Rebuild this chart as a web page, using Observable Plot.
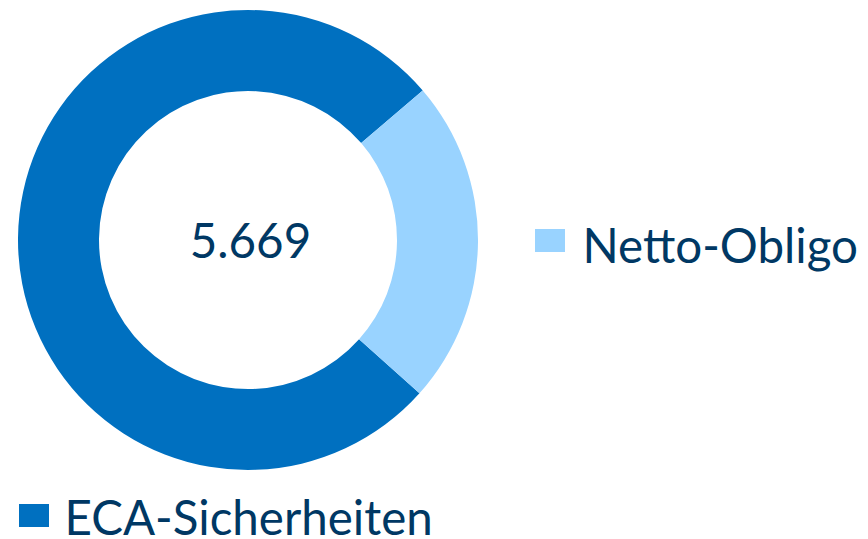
<!DOCTYPE html>
<html>
<head>
<meta charset="utf-8">
<script src="https://cdn.jsdelivr.net/npm/d3@7"></script>
<script src="https://cdn.jsdelivr.net/npm/@observablehq/plot@0.6"></script>
<style>
  html, body { margin: 0; padding: 0; background: #fff; }
  #chart { width: 868px; height: 539px; }
</style>
</head>
<body>
<div id="chart"></div>
<script>
// ---- data ----
const categories = ["ECA-Sicherheiten", "Netto-Obligo"];
const values = [4372, 1297];
const colors = ["#0070C0", "#99D3FF"];

const data = categories.map((c, i) => ({category: c, value: values[i]}));
const deFormat = d3.formatLocale({decimal: ",", thousands: ".", grouping: [3], currency: ["", " €"]}).format(",");
const totalLabel = deFormat(d3.sum(values));

const color = Plot.scale({color: {domain: categories, range: colors}});

const W = 868, H = 539;
const cx = 248, cy = 240, rOuter = 230, rInner = 149;
const startAngle = 131.8 * Math.PI / 180;
const textColor = "#003864";
const font = "Lato, sans-serif";
const fs = 47.5;

function donut(index, scales, vals, dims) {
  const g = d3.create("svg:g");
  const pie = d3.pie().sort(null).value(d => d.value)
    .startAngle(startAngle).endAngle(startAngle + 2 * Math.PI);
  const arc = d3.arc().innerRadius(rInner).outerRadius(rOuter);
  g.append("g").attr("transform", `translate(${cx},${cy})`)
    .selectAll("path").data(pie(data)).join("path")
    .attr("d", arc)
    .attr("fill", d => color.apply(d.data.category));
  return g.node();
}

function swatches() {
  const g = d3.create("svg:g");
  const pos = {"ECA-Sicherheiten": [19, 504], "Netto-Obligo": [535, 229]};
  g.selectAll("rect").data(categories).join("rect")
    .attr("x", d => pos[d][0]).attr("y", d => pos[d][1])
    .attr("width", 30).attr("height", 23)
    .attr("fill", d => color.apply(d));
  return g.node();
}

const chart = Plot.plot({
  width: W, height: H, margin: 0,
  style: {fontFamily: font, background: "#fff", overflow: "visible"},
  marks: [
    donut,
    swatches,
    Plot.text([totalLabel], {frameAnchor: "top-left", dx: cx + 2, dy: 257, text: d => d, textAnchor: "middle", lineAnchor: "bottom", fontSize: fs, fill: textColor}),
    Plot.text(["Netto-Obligo"], {frameAnchor: "top-left", dx: 582, dy: 262, text: d => d, textAnchor: "start", lineAnchor: "bottom", fontSize: fs, fill: textColor}),
    Plot.text(["ECA-Sicherheiten"], {frameAnchor: "top-left", dx: 64, dy: 534, text: d => d, textAnchor: "start", lineAnchor: "bottom", fontSize: fs, fill: textColor})
  ]
});
document.getElementById("chart").append(chart);
</script>
</body>
</html>
